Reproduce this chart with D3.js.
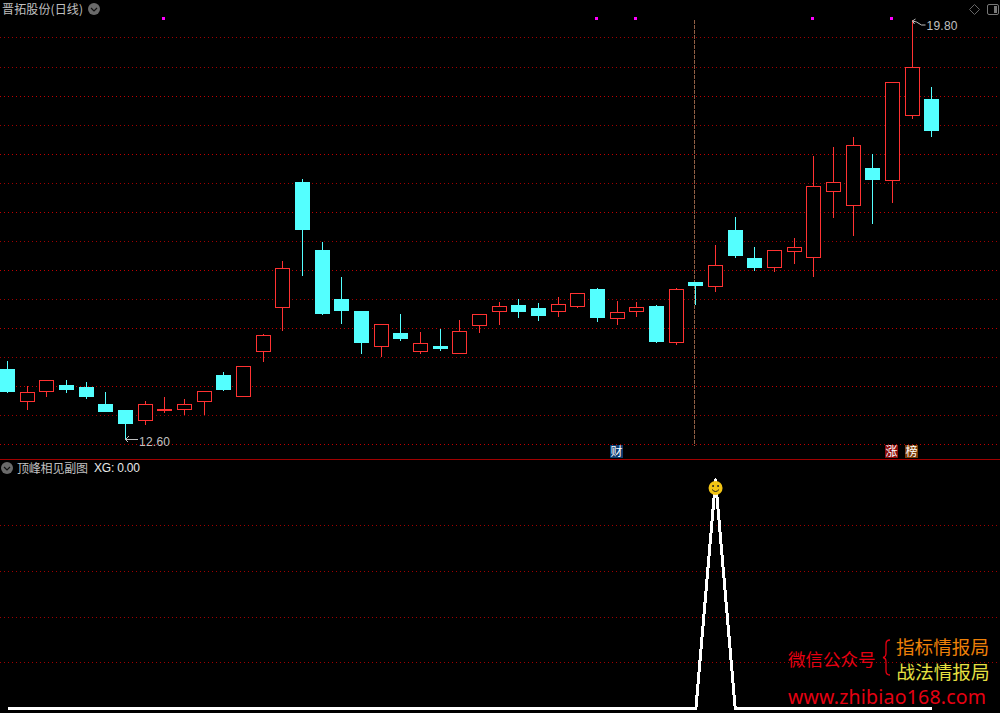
<!DOCTYPE html>
<html><head><meta charset="utf-8">
<script src="https://cdn.jsdelivr.net/npm/d3@7/dist/d3.min.js"></script>
<style>html,body{margin:0;padding:0;background:#000;overflow:hidden}svg{display:block}text{font-family:"Noto Sans CJK SC","Noto Sans",sans-serif}</style>
</head><body><svg id="c" width="1000" height="713"></svg>
<script>
const opens =[13.81,13.25,13.42,13.54,13.50,13.21,13.11,12.91,13.09,13.11,13.25,13.71,13.33,14.11,14.86,17.02,15.85,15.01,14.81,14.19,14.43,14.11,14.21,14.06,14.55,14.78,14.91,14.86,14.79,14.88,15.18,14.66,14.79,14.89,14.26,15.30,15.21,16.20,15.72,15.55,15.82,15.72,16.84,16.61,17.26,17.04,18.16,18.44];
const closes=[13.42,13.41,13.62,13.45,13.33,13.07,12.87,13.21,13.12,13.21,13.43,13.45,13.87,14.39,15.54,16.20,14.76,14.81,14.26,14.59,14.33,14.25,14.15,14.46,14.75,14.89,14.79,14.72,14.92,15.11,14.69,14.78,14.87,14.27,15.18,15.23,15.59,15.75,15.54,15.85,15.90,16.95,17.02,17.65,17.05,18.73,18.99,17.90];
const highs =[13.95,13.52,13.62,13.62,13.59,13.42,13.11,13.26,13.33,13.30,13.43,13.76,13.87,14.41,15.66,17.07,15.99,15.39,14.81,14.59,14.75,14.45,14.50,14.65,14.75,14.96,15.01,14.94,15.05,15.11,15.20,14.98,14.96,14.91,15.20,15.30,15.94,16.42,15.90,15.85,16.06,17.47,17.62,17.79,17.50,18.73,19.80,18.65];
const lows  =[13.40,13.11,13.33,13.40,13.30,13.07,12.60,12.85,13.05,13.02,13.02,13.43,13.33,13.93,14.46,15.41,14.74,14.58,14.07,14.02,14.29,14.07,14.12,14.06,14.43,14.57,14.69,14.63,14.70,14.86,14.62,14.57,14.70,14.26,14.22,14.91,15.13,15.72,15.49,15.48,15.61,15.39,16.40,16.09,16.30,16.66,18.10,17.79];
const xgValues=[0,0,0,0,0,0,0,0,0,0,0,0,0,0,0,0,0,0,0,0,0,0,0,0,0,0,0,0,0,0,0,0,0,0,0,0,1,0,0,0,0,0,0,0,0,0,0,0];
const gridPrices=[12.52,13.02,13.51,14.01,14.51,15.01,15.50,16.00,16.50,17.00,17.50,17.99,18.49,18.99,19.50];
const subTicks=[0.2,0.4,0.6,0.8];
const markerIdx=[8,30,32,41,45];
const badges=[{i:31,t:"财",c:"#0a3a6e"},{i:45,t:"涨",c:"#8a0c0c"},{i:46,t:"榜",c:"#7a3c08"}];
const maxLabel="19.80", minLabel="12.60";
const title="晋拓股份(日线)", subTitle="顶峰相见副图", xgLabel="XG: 0.00";

const svg=d3.select("#c");
const W=1000,H=713;
svg.append("rect").attr("width",W).attr("height",H).attr("fill","#000");
const x=d3.scaleLinear().domain([0,47]).range([7.5,931.9]);
const y=d3.scaleLinear().domain([12.6,19.8]).range([439.5,20]);
const ySub=d3.scaleLinear().domain([0,1]).range([708.5,480]);
const px=v=>Math.floor(v)+0.5;
const RED="#ff3232",CYAN="#54ffff";

// grids
svg.append("g").selectAll("line").data(gridPrices).join("line")
 .attr("x1",0).attr("x2",W).attr("y1",d=>px(y(d))).attr("y2",d=>px(y(d)))
 .attr("stroke",(d,i)=>(i%2===0&&i<14)?"#c00000":"#a00000").attr("stroke-dasharray","1 3").attr("shape-rendering","crispEdges");
svg.append("g").selectAll("line").data(subTicks).join("line")
 .attr("x1",0).attr("x2",W).attr("y1",d=>px(ySub(d))).attr("y2",d=>px(ySub(d)))
 .attr("stroke","#a00000").attr("stroke-dasharray","1 3").attr("shape-rendering","crispEdges");
svg.append("line").attr("x1",0).attr("x2",W).attr("y1",459.5).attr("y2",459.5).attr("stroke","#a00000").attr("shape-rendering","crispEdges");

// signal vertical line
svg.append("line").attr("x1",694.5).attr("x2",694.5).attr("y1",20).attr("y2",446)
 .attr("stroke","#8f5f45").attr("stroke-dasharray","4 1").attr("shape-rendering","crispEdges");

// candles
const g=svg.append("g").attr("shape-rendering","crispEdges");
closes.forEach((c,i)=>{
  const o=opens[i],up=c>=o,col=up?RED:CYAN,cx=px(x(i));
  g.append("line").attr("x1",cx).attr("x2",cx).attr("y1",y(highs[i])).attr("y2",y(lows[i])).attr("stroke",col);
  const t=Math.round(y(Math.max(o,c))),b=Math.round(y(Math.min(o,c)));
  if(up && b-t>2) g.append("rect").attr("x",cx-7).attr("width",14).attr("y",t+0.5).attr("height",b-t-1).attr("fill","#000").attr("stroke",col);
  else g.append("rect").attr("x",cx-7.5).attr("width",15).attr("y",t).attr("height",Math.max(b-t,1)).attr("fill",col);
});

// top markers
svg.append("g").selectAll("rect").data(markerIdx).join("rect")
 .attr("x",d=>Math.floor(x(d))-2).attr("y",17).attr("width",3).attr("height",3).attr("fill","#ff00ff");

// high/low labels
const lbl=svg.append("g").attr("fill","#c0c0c0").style("font-size","12px");
const ax=px(x(6)), ay=y(12.6);
svg.append("path").attr("d",`M${ax+12},${ay}H${ax}l3,-3M${ax},${ay}l3,3`).attr("stroke","#c0c0c0").attr("fill","none").attr("shape-rendering","crispEdges");
lbl.append("text").attr("x",ax+13.5).attr("y",ay+6).attr("textLength",31).style("font-family","Liberation Sans").text(minLabel);
const hx=px(x(46)), hy=y(19.8);
svg.append("path").attr("d",`M${hx},${hy+1}l4,1l5,3l4,0M${hx},${hy+1}l3,-2M${hx},${hy+1}l2,3`).attr("stroke","#c0c0c0").attr("fill","none");
lbl.append("text").attr("x",hx+14).attr("y",hy+10).attr("textLength",31).style("font-family","Liberation Sans").text(maxLabel);

// badges
const bg=svg.append("g");
badges.forEach(b=>{
  const cx=b.i===31?616.5:b.i===45?891.5:911.5;
  bg.append("rect").attr("x",cx-6.5).attr("y",445).attr("width",13).attr("height",13).attr("fill",b.c);
  bg.append("text").attr("x",cx).attr("y",456).attr("text-anchor","middle").attr("fill","#fff").style("font-size","12px").text(b.t);
});

// header
function chevron(cx,cy){
  svg.append("circle").attr("cx",cx).attr("cy",cy).attr("r",6).attr("fill","#6a6a6a");
  svg.append("path").attr("d",`M${cx-3},${cy-1}l3,3l3,-3`).attr("stroke","#111").attr("stroke-width",1.2).attr("fill","none");
}
svg.append("text").attr("x",2).attr("y",14).attr("fill","#c0c0c0").style("font-size","12px").attr("textLength",81).text(title);
chevron(94,9);
chevron(7,468);
svg.append("text").attr("x",17).attr("y",473).attr("fill","#c0c0c0").style("font-size","12px").attr("textLength",71).text(subTitle);
svg.append("text").attr("x",94).attr("y",472).attr("fill","#e8e8e8").style("font-size","12px").style("font-family","Liberation Sans").attr("textLength",46).text(xgLabel);

// top-right icons
svg.append("path").attr("d","M974.5,4.5l5,5l-5,5l-5,-5z").attr("fill","none").attr("stroke","#666");
svg.append("rect").attr("x",987.5).attr("y",4.5).attr("width",11).attr("height",10).attr("rx",1.5).attr("fill","none").attr("stroke","#777");
svg.append("rect").attr("x",994).attr("y",6).attr("width",3).attr("height",7).attr("fill","#777");

// XG line
const line=d3.line().x((d,i)=>x(i)).y(d=>ySub(d));
svg.append("path").datum(xgValues).attr("d",line).attr("fill","none").attr("stroke","#fff").attr("stroke-width",3).attr("stroke-linejoin","round").attr("shape-rendering","crispEdges");
// smiley
const sx=x(36),sy=488;
svg.append("circle").attr("cx",sx).attr("cy",sy).attr("r",7).attr("fill","#f2c414");
svg.append("circle").attr("cx",sx-2.5).attr("cy",sy-2).attr("r",1).attr("fill","#222");
svg.append("circle").attr("cx",sx+2.5).attr("cy",sy-2).attr("r",1).attr("fill","#222");
svg.append("path").attr("d",`M${sx-3.5},${sy+1.5}q3.5,4 7,0`).attr("fill","none").attr("stroke","#222").attr("stroke-width",1);

// watermark
const wm=svg.append("g");
wm.append("text").attr("x",788).attr("y",666).attr("fill","#e60012").style("font-size","17.5px").text("微信公众号");
wm.append("path").attr("d","M890,640q-4,0 -4,4v9q0,4 -3,4.5q3,.5 3,4.5v9q0,4 4,4").attr("fill","none").attr("stroke","#e60012").attr("stroke-width",1.3);
wm.append("text").attr("x",896).attr("y",654).attr("fill","#ee8008").style("font-size","18.6px").text("指标情报局");
wm.append("text").attr("x",896.5).attr("y",679).attr("fill","#e6e040").style("font-size","18.6px").text("战法情报局");
wm.append("text").attr("x",788).attr("y",704).attr("fill","#e60012").style("font-size","19.5px").style("font-family","Noto Sans").attr("textLength",198).text("www.zhibiao168.com");
</script></body></html>
